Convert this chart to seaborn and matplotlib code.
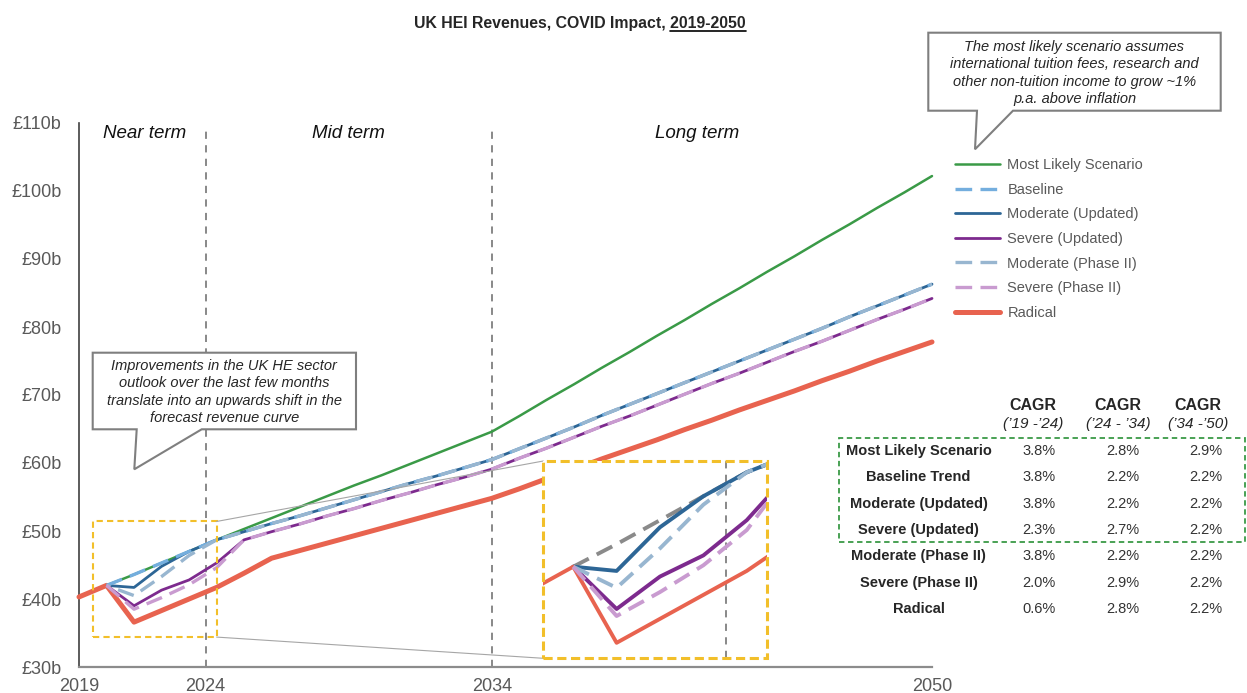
# UK HEI revenues - COVID impact scenarios, 2019-2050

import numpy as np
import pandas as pd
import matplotlib
matplotlib.use("Agg")
import matplotlib.pyplot as plt
from matplotlib.patches import Polygon, Rectangle, ConnectionPatch
from matplotlib.lines import Line2D
import seaborn as sns

sns.set_style("white")
plt.rcParams['font.family'] = ['Liberation Sans', 'DejaVu Sans']

# DATA (revenue in £b)
years = list(range(2019, 2051))
most_likely = [np.nan, 42.0, 43.6, 45.3, 47.0, 48.7, 50.3, 51.9, 53.5, 55.1, 56.7, 58.2, 59.8, 61.4, 63.0, 64.6,
               66.9, 69.3, 71.6, 74.0, 76.3, 78.7, 81.0, 83.4, 85.7, 88.1, 90.4, 92.8, 95.1, 97.5, 99.8, 102.2]
baseline = [np.nan, 42.0, 43.6, 45.3, 47.0, 48.7, 49.9, 51.1, 52.2, 53.4, 54.6, 55.8, 57.0, 58.1, 59.3, 60.5,
            62.1, 63.7, 65.3, 67.0, 68.6, 70.2, 71.8, 73.4, 75.0, 76.6, 78.2, 79.8, 81.5, 83.1, 84.7, 86.3]
moderate_upd = [np.nan, 42.0, 41.7, 44.8, 47.0, 48.7, 49.9, 51.1, 52.2, 53.4, 54.6, 55.8, 57.0, 58.1, 59.3, 60.5,
                62.1, 63.7, 65.3, 67.0, 68.6, 70.2, 71.8, 73.4, 75.0, 76.6, 78.2, 79.8, 81.5, 83.1, 84.7, 86.3]
severe_upd = [np.nan, 42.0, 39.0, 41.3, 42.8, 45.3, 48.7, 49.9, 51.0, 52.2, 53.3, 54.5, 55.6, 56.8, 57.9, 59.1,
              60.7, 62.2, 63.8, 65.4, 66.9, 68.5, 70.1, 71.7, 73.2, 74.8, 76.4, 77.9, 79.5, 81.1, 82.6, 84.2]
moderate_ph2 = [np.nan, 42.0, 40.5, 43.3, 46.4, 48.7, 49.9, 51.1, 52.2, 53.4, 54.6, 55.8, 57.0, 58.1, 59.3, 60.5,
                62.1, 63.7, 65.3, 67.0, 68.6, 70.2, 71.8, 73.4, 75.0, 76.6, 78.2, 79.8, 81.5, 83.1, 84.7, 86.3]
severe_ph2 = [np.nan, 42.0, 38.5, 40.2, 42.1, 44.6, 48.7, 49.9, 51.0, 52.2, 53.3, 54.5, 55.6, 56.8, 57.9, 59.1,
              60.7, 62.2, 63.8, 65.4, 66.9, 68.5, 70.1, 71.7, 73.2, 74.8, 76.4, 77.9, 79.5, 81.1, 82.6, 84.2]
radical = [40.3, 42.0, 36.6, 38.3, 40.0, 41.7, 43.8, 46.0, 47.1, 48.2, 49.3, 50.4, 51.5, 52.6, 53.7, 54.8,
           56.2, 57.7, 59.1, 60.6, 62.0, 63.4, 64.9, 66.3, 67.8, 69.2, 70.6, 72.1, 73.5, 75.0, 76.4, 77.8]

scenario_names = ['Most Likely Scenario', 'Baseline', 'Moderate (Updated)', 'Severe (Updated)',
                  'Moderate (Phase II)', 'Severe (Phase II)', 'Radical']
df = pd.DataFrame({'year': years,
                   'Most Likely Scenario': most_likely,
                   'Baseline': baseline,
                   'Moderate (Updated)': moderate_upd,
                   'Severe (Updated)': severe_upd,
                   'Moderate (Phase II)': moderate_ph2,
                   'Severe (Phase II)': severe_ph2,
                   'Radical': radical})

# CAGR table
cagr_scenarios = ['Most Likely Scenario', 'Baseline Trend', 'Moderate (Updated)', 'Severe (Updated)',
                  'Moderate (Phase II)', 'Severe (Phase II)', 'Radical']
cagr_19_24 = ['3.8%', '3.8%', '3.8%', '2.3%', '3.8%', '2.0%', '0.6%']
cagr_24_34 = ['2.8%', '2.2%', '2.2%', '2.7%', '2.2%', '2.9%', '2.8%']
cagr_34_50 = ['2.9%', '2.2%', '2.2%', '2.2%', '2.2%', '2.2%', '2.2%']
cagr_periods = ['(\u201919 -\u201924)', '(\u201924 - \u201934)', '(\u201934 -\u201950)']

period_labels = ['Near term', 'Mid term', 'Long term']
period_label_x = [2021.4, 2028.8, 2041.45]
period_bounds = [2023.6, 2034]
xtick_pos = [2019, 2023.6, 2034, 2050]
xtick_labels = ['2019', '2024', '2034', '2050']

# line styles
green = '#3a9a47'
yellow = '#f2bf2a'
styles = {
    'Most Likely Scenario': dict(color=green, lw=1.8, ls='-', z=2),
    'Baseline': dict(color='#74aede', lw=2.4, ls=(0, (5, 2.5)), z=4),
    'Moderate (Updated)': dict(color='#2d6696', lw=2.0, ls='-', z=3),
    'Severe (Updated)': dict(color='#7d2a8e', lw=2.0, ls='-', z=3),
    'Moderate (Phase II)': dict(color='#98b6d0', lw=2.4, ls=(3.8, (5, 2.5)), z=4.5),
    'Severe (Phase II)': dict(color='#c99bd0', lw=2.4, ls=(0, (5, 2.5)), z=4.5),
    'Radical': dict(color='#e8634f', lw=3.6, ls='-', z=3.5),
}

W, H = 1247, 693
def fx(px): return px / W
def fy(py): return 1 - py / H

fig = plt.figure(figsize=(W / 100, H / 100), dpi=100)
ax = fig.add_axes([fx(79), fy(667), fx(932) - fx(79), fy(123) - fy(667)])

handles = []
for name in scenario_names:
    st = styles[name]
    sns.lineplot(data=df, x='year', y=name, ax=ax, color=st['color'], lw=st['lw'],
                 linestyle=st['ls'], zorder=st['z'], label=name, clip_on=False)
    # legend proxy without the dash offset
    ls = st['ls'] if st['ls'] == '-' else (0, st['ls'][1])
    handles.append(Line2D([], [], color=st['color'], lw=st['lw'], linestyle=ls))
ax.get_legend().remove()

ax.set_xlim(2019, 2050)
ax.set_ylim(30, 110)
ax.set_xlabel('')
ax.set_ylabel('')
ax.set_yticks(range(30, 111, 10))
ax.set_yticklabels(['\u00a3{}b'.format(v) for v in range(30, 111, 10)])
ax.set_xticks(xtick_pos)
ax.set_xticklabels(xtick_labels)
ax.tick_params(axis='y', length=5.5, width=1, color='#404040', pad=7, labelsize=13, labelcolor='#595959')
ax.tick_params(axis='x', length=0, pad=8, labelsize=13, labelcolor='#595959')
sns.despine(ax=ax)
ax.spines['left'].set_color('#404040')
ax.spines['left'].set_linewidth(1.2)
ax.spines['bottom'].set_color('#8c8c8c')
ax.spines['bottom'].set_linewidth(1.6)

# period separators and labels
ax.vlines(period_bounds, 30, 109.3, color='#7f7f7f', lw=1.3, linestyles=[(0, (4, 3.5))], zorder=1)
for lab, xp in zip(period_labels, period_label_x):
    ax.text(xp, 108.5, lab, style='italic', fontsize=13.5, ha='center', va='center', color='#111111')

# zoom rectangle on the main chart
ax.add_patch(Rectangle((2019.5, 34.4), 4.5, 17.0, fill=False, ec=yellow, lw=1.5,
                       ls=(0, (3, 2)), zorder=6))

# inset zoom of the near term
axin = fig.add_axes([fx(543.3), fy(658.3), fx(766.7) - fx(543.3), fy(461) - fy(658.3)])
axin.set_zorder(5)
axin.set_facecolor('white')
inset_styles = {
    'Baseline': dict(color='#8a8a8a', lw=2.8, ls=(0, (4.5, 2.3)), z=2),
    'Moderate (Updated)': dict(color='#2d6696', lw=2.8, ls='-', z=3),
    'Moderate (Phase II)': dict(color='#98b6d0', lw=2.8, ls=(0, (4.5, 2.3)), z=4),
    'Severe (Updated)': dict(color='#7d2a8e', lw=2.8, ls='-', z=3),
    'Severe (Phase II)': dict(color='#c99bd0', lw=2.8, ls=(0, (4.5, 2.3)), z=4),
    'Radical': dict(color='#e8634f', lw=2.8, ls='-', z=3),
}
for name, st in inset_styles.items():
    sns.lineplot(data=df, x='year', y=name, ax=axin, color=st['color'], lw=st['lw'],
                 linestyle=st['ls'], zorder=st['z'])
axin.axvline(2023.53, color='#7f7f7f', lw=1.3, ls=(0, (4, 3.5)), zorder=1)
axin.set_xlim(2019.31, 2024.46)
axin.set_ylim(35.5, 49.5)
axin.set_xticks([])
axin.set_yticks([])
axin.set_xlabel('')
axin.set_ylabel('')
for sp in axin.spines.values():
    sp.set_visible(False)
axin.add_patch(Rectangle((0, 0), 1, 1, transform=axin.transAxes, fill=False, ec=yellow,
                         lw=2.2, ls=(0, (3, 1.5)), clip_on=False, zorder=10))

for ya, yb in [(51.4, 1), (34.4, 0)]:
    con = ConnectionPatch(xyA=(2024.0, ya), coordsA=ax.transData, xyB=(0, yb), coordsB=axin.transAxes,
                          color='#a6a6a6', lw=0.8, zorder=1)
    fig.add_artist(con)

# legend
fig.legend(handles, scenario_names, loc='upper left', bbox_to_anchor=(fx(955), fy(158)),
           frameon=False, fontsize=10.5, labelcolor='#595959', handlelength=3.1,
           handletextpad=0.5, labelspacing=0.73, borderpad=0, borderaxespad=0)

# callouts
def callout(points, text, cx, cy):
    poly = Polygon([(fx(px), fy(py)) for px, py in points], closed=True, transform=fig.transFigure,
                   fc='white', ec='#7f7f7f', lw=1.5, zorder=10)
    fig.add_artist(poly)
    fig.text(fx(cx), fy(cy), text, ha='center', va='center', style='italic', fontsize=10.5,
             color='#262626', linespacing=1.33, zorder=11)

callout([(928.3, 32.7), (1220.7, 32.7), (1220.7, 110.7), (1013, 110.7), (975, 149.3),
         (977, 110.7), (928.3, 110.7)],
        'The most likely scenario assumes\ninternational tuition fees, research and\n'
        'other non-tuition income to grow ~1%\np.a. above inflation', 1074.5, 73)
callout([(92.7, 352.7), (356, 352.7), (356, 429.3), (201.7, 429.3), (134.3, 469.3),
         (136.7, 429.3), (92.7, 429.3)],
        'Improvements in the UK HE sector\noutlook over the last few months\n'
        'translate into an upwards shift in the\nforecast revenue curve', 224.3, 392)

# CAGR table
col_x = [1039, 1122.5, 1206]
head_x = [1033, 1118, 1198]
for hx, per in zip(head_x, cagr_periods):
    fig.text(fx(hx), fy(406), 'CAGR', ha='center', va='center', fontsize=11.5, fontweight='bold')
    fig.text(fx(hx), fy(423.5), per, ha='center', va='center', fontsize=11, style='italic', color='#262626')
for i, name in enumerate(cagr_scenarios):
    ry = 451 + i * 26.35
    fig.text(fx(918.5), fy(ry), name, ha='center', va='center', fontsize=10.5, fontweight='bold')
    for cx, val in zip(col_x, [cagr_19_24[i], cagr_24_34[i], cagr_34_50[i]]):
        fig.text(fx(cx), fy(ry), val, ha='center', va='center', fontsize=10.5, color='#333333')
fig.add_artist(Rectangle((fx(839.3), fy(541.7)), fx(1245) - fx(839.3), fy(437.7) - fy(541.7),
                         transform=fig.transFigure, fill=False, ec=green, lw=1.3, ls=(0, (3, 2))))

# title with underlined period
title_kw = dict(fontsize=11.4, fontweight='bold')
title = fig.text(fx(580), fy(28.3), 'UK HEI Revenues, COVID Impact, 2019-2050', ha='center',
                 va='baseline', **title_kw)
renderer = fig.canvas.get_renderer()
bb = title.get_window_extent(renderer)
tmp = fig.text(0, 0, '2019-2050', **title_kw)
w2 = tmp.get_window_extent(renderer).width
tmp.remove()
uy = fy(28.3) - 3 / H
fig.add_artist(Line2D([(bb.x1 - w2) / W, bb.x1 / W], [uy, uy], transform=fig.transFigure,
                      color='black', lw=1.2))

fig.savefig('out.png', dpi=100)
print("done")
